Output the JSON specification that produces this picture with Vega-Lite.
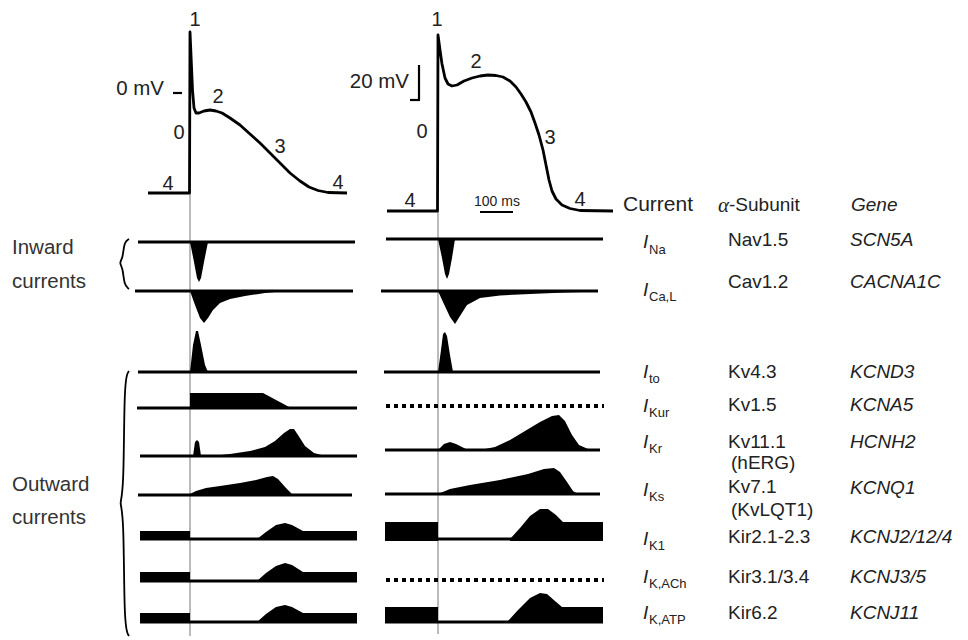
{
  "$schema": "https://vega.github.io/schema/vega-lite/v6.json",
  "width": 968,
  "height": 640,
  "padding": 0,
  "autosize": {"type": "fit", "contains": "padding"},
  "config": {"view": {"stroke": null}, "axis": null},
  "datasets": {
    "ap": [
      {"trace": "atrial", "o": 1, "x": 148, "y": 193},
      {"trace": "atrial", "o": 2, "x": 189.5, "y": 193},
      {"trace": "atrial", "o": 3, "x": 190, "y": 32},
      {"trace": "atrial", "o": 4, "x": 191, "y": 55},
      {"trace": "atrial", "o": 5, "x": 192.5, "y": 90},
      {"trace": "atrial", "o": 6, "x": 194, "y": 108},
      {"trace": "atrial", "o": 7, "x": 196, "y": 113},
      {"trace": "atrial", "o": 8, "x": 199, "y": 113},
      {"trace": "atrial", "o": 9, "x": 204, "y": 111},
      {"trace": "atrial", "o": 10, "x": 210, "y": 110},
      {"trace": "atrial", "o": 11, "x": 216, "y": 111},
      {"trace": "atrial", "o": 12, "x": 222, "y": 113},
      {"trace": "atrial", "o": 13, "x": 230, "y": 118},
      {"trace": "atrial", "o": 14, "x": 240, "y": 125},
      {"trace": "atrial", "o": 15, "x": 250, "y": 134},
      {"trace": "atrial", "o": 16, "x": 260, "y": 143},
      {"trace": "atrial", "o": 17, "x": 270, "y": 153},
      {"trace": "atrial", "o": 18, "x": 280, "y": 163},
      {"trace": "atrial", "o": 19, "x": 290, "y": 173},
      {"trace": "atrial", "o": 20, "x": 300, "y": 181},
      {"trace": "atrial", "o": 21, "x": 309, "y": 187},
      {"trace": "atrial", "o": 22, "x": 318, "y": 190.5},
      {"trace": "atrial", "o": 23, "x": 328, "y": 192.5},
      {"trace": "atrial", "o": 24, "x": 347, "y": 193},
      {"trace": "ventricular", "o": 1, "x": 387, "y": 211},
      {"trace": "ventricular", "o": 2, "x": 437.5, "y": 211},
      {"trace": "ventricular", "o": 3, "x": 438, "y": 35},
      {"trace": "ventricular", "o": 4, "x": 440, "y": 50},
      {"trace": "ventricular", "o": 5, "x": 442, "y": 64},
      {"trace": "ventricular", "o": 6, "x": 445, "y": 78},
      {"trace": "ventricular", "o": 7, "x": 448, "y": 84},
      {"trace": "ventricular", "o": 8, "x": 452, "y": 86},
      {"trace": "ventricular", "o": 9, "x": 457, "y": 85},
      {"trace": "ventricular", "o": 10, "x": 464, "y": 81},
      {"trace": "ventricular", "o": 11, "x": 472, "y": 78},
      {"trace": "ventricular", "o": 12, "x": 480, "y": 76},
      {"trace": "ventricular", "o": 13, "x": 488, "y": 75},
      {"trace": "ventricular", "o": 14, "x": 496, "y": 75.5},
      {"trace": "ventricular", "o": 15, "x": 503, "y": 77},
      {"trace": "ventricular", "o": 16, "x": 510, "y": 81},
      {"trace": "ventricular", "o": 17, "x": 516, "y": 87},
      {"trace": "ventricular", "o": 18, "x": 521, "y": 94},
      {"trace": "ventricular", "o": 19, "x": 526, "y": 102},
      {"trace": "ventricular", "o": 20, "x": 531, "y": 112},
      {"trace": "ventricular", "o": 21, "x": 535, "y": 123},
      {"trace": "ventricular", "o": 22, "x": 539, "y": 135},
      {"trace": "ventricular", "o": 23, "x": 543, "y": 150},
      {"trace": "ventricular", "o": 24, "x": 546, "y": 165},
      {"trace": "ventricular", "o": 25, "x": 549, "y": 180},
      {"trace": "ventricular", "o": 26, "x": 552, "y": 191},
      {"trace": "ventricular", "o": 27, "x": 556, "y": 199},
      {"trace": "ventricular", "o": 28, "x": 562, "y": 205},
      {"trace": "ventricular", "o": 29, "x": 570, "y": 208.5},
      {"trace": "ventricular", "o": 30, "x": 580, "y": 210.5},
      {"trace": "ventricular", "o": 31, "x": 613, "y": 211}
    ],
    "areas": [
      {"trace": "INa_L", "x": 190, "y": 242, "y2": 242},
      {"trace": "INa_L", "x": 194, "y": 262, "y2": 242},
      {"trace": "INa_L", "x": 197, "y": 278, "y2": 242},
      {"trace": "INa_L", "x": 199, "y": 282, "y2": 242},
      {"trace": "INa_L", "x": 201, "y": 278, "y2": 242},
      {"trace": "INa_L", "x": 204, "y": 262, "y2": 242},
      {"trace": "INa_L", "x": 208, "y": 242, "y2": 242},
      {"trace": "ICaL_L", "x": 190, "y": 291, "y2": 291},
      {"trace": "ICaL_L", "x": 195, "y": 305, "y2": 291},
      {"trace": "ICaL_L", "x": 200, "y": 318, "y2": 291},
      {"trace": "ICaL_L", "x": 204, "y": 323, "y2": 291},
      {"trace": "ICaL_L", "x": 208, "y": 318, "y2": 291},
      {"trace": "ICaL_L", "x": 213, "y": 310, "y2": 291},
      {"trace": "ICaL_L", "x": 220, "y": 303, "y2": 291},
      {"trace": "ICaL_L", "x": 230, "y": 299, "y2": 291},
      {"trace": "ICaL_L", "x": 245, "y": 296, "y2": 291},
      {"trace": "ICaL_L", "x": 265, "y": 293, "y2": 291},
      {"trace": "ICaL_L", "x": 285, "y": 291, "y2": 291},
      {"trace": "Ito_L", "x": 190, "y": 372, "y2": 372},
      {"trace": "Ito_L", "x": 193, "y": 345, "y2": 372},
      {"trace": "Ito_L", "x": 196, "y": 331, "y2": 372},
      {"trace": "Ito_L", "x": 198, "y": 331, "y2": 372},
      {"trace": "Ito_L", "x": 201, "y": 345, "y2": 372},
      {"trace": "Ito_L", "x": 205, "y": 365, "y2": 372},
      {"trace": "Ito_L", "x": 208, "y": 372, "y2": 372},
      {"trace": "IKur_L", "x": 190, "y": 393, "y2": 408},
      {"trace": "IKur_L", "x": 263, "y": 393, "y2": 408},
      {"trace": "IKur_L", "x": 291, "y": 408, "y2": 408},
      {"trace": "IKr_L1", "x": 193, "y": 456, "y2": 456},
      {"trace": "IKr_L1", "x": 195, "y": 442, "y2": 456},
      {"trace": "IKr_L1", "x": 197, "y": 440, "y2": 456},
      {"trace": "IKr_L1", "x": 199, "y": 442, "y2": 456},
      {"trace": "IKr_L1", "x": 201, "y": 456, "y2": 456},
      {"trace": "IKr_L2", "x": 212, "y": 456, "y2": 456},
      {"trace": "IKr_L2", "x": 230, "y": 454, "y2": 456},
      {"trace": "IKr_L2", "x": 250, "y": 451, "y2": 456},
      {"trace": "IKr_L2", "x": 265, "y": 447, "y2": 456},
      {"trace": "IKr_L2", "x": 275, "y": 441, "y2": 456},
      {"trace": "IKr_L2", "x": 284, "y": 433, "y2": 456},
      {"trace": "IKr_L2", "x": 290, "y": 429, "y2": 456},
      {"trace": "IKr_L2", "x": 294, "y": 429, "y2": 456},
      {"trace": "IKr_L2", "x": 298, "y": 435, "y2": 456},
      {"trace": "IKr_L2", "x": 305, "y": 446, "y2": 456},
      {"trace": "IKr_L2", "x": 314, "y": 453, "y2": 456},
      {"trace": "IKr_L2", "x": 325, "y": 456, "y2": 456},
      {"trace": "IKs_L", "x": 188, "y": 495, "y2": 495},
      {"trace": "IKs_L", "x": 196, "y": 491, "y2": 495},
      {"trace": "IKs_L", "x": 206, "y": 488, "y2": 495},
      {"trace": "IKs_L", "x": 220, "y": 486, "y2": 495},
      {"trace": "IKs_L", "x": 240, "y": 483, "y2": 495},
      {"trace": "IKs_L", "x": 256, "y": 480, "y2": 495},
      {"trace": "IKs_L", "x": 267, "y": 477, "y2": 495},
      {"trace": "IKs_L", "x": 273, "y": 476, "y2": 495},
      {"trace": "IKs_L", "x": 278, "y": 479, "y2": 495},
      {"trace": "IKs_L", "x": 286, "y": 488, "y2": 495},
      {"trace": "IKs_L", "x": 293, "y": 495, "y2": 495},
      {"trace": "IK1_La", "x": 140, "y": 531, "y2": 540},
      {"trace": "IK1_La", "x": 190, "y": 531, "y2": 540},
      {"trace": "IK1_Lb", "x": 257, "y": 539, "y2": 540},
      {"trace": "IK1_Lb", "x": 266, "y": 532, "y2": 540},
      {"trace": "IK1_Lb", "x": 276, "y": 525, "y2": 540},
      {"trace": "IK1_Lb", "x": 285, "y": 523, "y2": 540},
      {"trace": "IK1_Lb", "x": 292, "y": 525, "y2": 540},
      {"trace": "IK1_Lb", "x": 303, "y": 531, "y2": 540},
      {"trace": "IK1_Lb", "x": 357, "y": 531, "y2": 540},
      {"trace": "IKACh_La", "x": 140, "y": 572, "y2": 582},
      {"trace": "IKACh_La", "x": 190, "y": 572, "y2": 582},
      {"trace": "IKACh_Lb", "x": 257, "y": 581, "y2": 582},
      {"trace": "IKACh_Lb", "x": 266, "y": 573, "y2": 582},
      {"trace": "IKACh_Lb", "x": 276, "y": 566, "y2": 582},
      {"trace": "IKACh_Lb", "x": 285, "y": 563, "y2": 582},
      {"trace": "IKACh_Lb", "x": 292, "y": 565, "y2": 582},
      {"trace": "IKACh_Lb", "x": 303, "y": 572, "y2": 582},
      {"trace": "IKACh_Lb", "x": 357, "y": 572, "y2": 582},
      {"trace": "IKATP_La", "x": 140, "y": 613, "y2": 623},
      {"trace": "IKATP_La", "x": 190, "y": 613, "y2": 623},
      {"trace": "IKATP_Lb", "x": 257, "y": 622, "y2": 623},
      {"trace": "IKATP_Lb", "x": 266, "y": 614, "y2": 623},
      {"trace": "IKATP_Lb", "x": 276, "y": 607, "y2": 623},
      {"trace": "IKATP_Lb", "x": 285, "y": 605, "y2": 623},
      {"trace": "IKATP_Lb", "x": 292, "y": 607, "y2": 623},
      {"trace": "IKATP_Lb", "x": 303, "y": 613, "y2": 623},
      {"trace": "IKATP_Lb", "x": 357, "y": 613, "y2": 623},
      {"trace": "INa_R", "x": 438, "y": 239, "y2": 239},
      {"trace": "INa_R", "x": 442, "y": 258, "y2": 239},
      {"trace": "INa_R", "x": 445, "y": 274, "y2": 239},
      {"trace": "INa_R", "x": 447, "y": 279, "y2": 239},
      {"trace": "INa_R", "x": 449, "y": 274, "y2": 239},
      {"trace": "INa_R", "x": 452, "y": 258, "y2": 239},
      {"trace": "INa_R", "x": 455, "y": 239, "y2": 239},
      {"trace": "ICaL_R", "x": 438, "y": 291, "y2": 291},
      {"trace": "ICaL_R", "x": 443, "y": 302, "y2": 291},
      {"trace": "ICaL_R", "x": 450, "y": 317, "y2": 291},
      {"trace": "ICaL_R", "x": 455, "y": 324, "y2": 291},
      {"trace": "ICaL_R", "x": 460, "y": 316, "y2": 291},
      {"trace": "ICaL_R", "x": 467, "y": 305, "y2": 291},
      {"trace": "ICaL_R", "x": 480, "y": 298, "y2": 291},
      {"trace": "ICaL_R", "x": 500, "y": 295.5, "y2": 291},
      {"trace": "ICaL_R", "x": 530, "y": 294, "y2": 291},
      {"trace": "ICaL_R", "x": 565, "y": 292.5, "y2": 291},
      {"trace": "ICaL_R", "x": 598, "y": 291.5, "y2": 291},
      {"trace": "Ito_R", "x": 438, "y": 372, "y2": 372},
      {"trace": "Ito_R", "x": 441, "y": 350, "y2": 372},
      {"trace": "Ito_R", "x": 443, "y": 334, "y2": 372},
      {"trace": "Ito_R", "x": 445, "y": 332, "y2": 372},
      {"trace": "Ito_R", "x": 447, "y": 336, "y2": 372},
      {"trace": "Ito_R", "x": 450, "y": 355, "y2": 372},
      {"trace": "Ito_R", "x": 453, "y": 372, "y2": 372},
      {"trace": "IKr_R", "x": 438, "y": 450, "y2": 450},
      {"trace": "IKr_R", "x": 444, "y": 444, "y2": 450},
      {"trace": "IKr_R", "x": 450, "y": 442, "y2": 450},
      {"trace": "IKr_R", "x": 456, "y": 444, "y2": 450},
      {"trace": "IKr_R", "x": 466, "y": 449, "y2": 450},
      {"trace": "IKr_R", "x": 480, "y": 450, "y2": 450},
      {"trace": "IKr_R", "x": 495, "y": 447, "y2": 450},
      {"trace": "IKr_R", "x": 510, "y": 440, "y2": 450},
      {"trace": "IKr_R", "x": 525, "y": 431, "y2": 450},
      {"trace": "IKr_R", "x": 540, "y": 422, "y2": 450},
      {"trace": "IKr_R", "x": 552, "y": 416, "y2": 450},
      {"trace": "IKr_R", "x": 559, "y": 415, "y2": 450},
      {"trace": "IKr_R", "x": 565, "y": 421, "y2": 450},
      {"trace": "IKr_R", "x": 572, "y": 435, "y2": 450},
      {"trace": "IKr_R", "x": 579, "y": 445, "y2": 450},
      {"trace": "IKr_R", "x": 588, "y": 449, "y2": 450},
      {"trace": "IKr_R", "x": 598, "y": 450, "y2": 450},
      {"trace": "IKs_R", "x": 438, "y": 494, "y2": 494},
      {"trace": "IKs_R", "x": 450, "y": 489, "y2": 494},
      {"trace": "IKs_R", "x": 470, "y": 485, "y2": 494},
      {"trace": "IKs_R", "x": 500, "y": 480, "y2": 494},
      {"trace": "IKs_R", "x": 528, "y": 474, "y2": 494},
      {"trace": "IKs_R", "x": 544, "y": 469, "y2": 494},
      {"trace": "IKs_R", "x": 554, "y": 468, "y2": 494},
      {"trace": "IKs_R", "x": 560, "y": 472, "y2": 494},
      {"trace": "IKs_R", "x": 567, "y": 482, "y2": 494},
      {"trace": "IKs_R", "x": 573, "y": 491, "y2": 494},
      {"trace": "IKs_R", "x": 578, "y": 494, "y2": 494},
      {"trace": "IK1_Ra", "x": 385, "y": 522, "y2": 541},
      {"trace": "IK1_Ra", "x": 438, "y": 522, "y2": 541},
      {"trace": "IK1_Rb", "x": 510, "y": 539, "y2": 541},
      {"trace": "IK1_Rb", "x": 520, "y": 528, "y2": 541},
      {"trace": "IK1_Rb", "x": 530, "y": 516, "y2": 541},
      {"trace": "IK1_Rb", "x": 540, "y": 509, "y2": 541},
      {"trace": "IK1_Rb", "x": 548, "y": 509, "y2": 541},
      {"trace": "IK1_Rb", "x": 556, "y": 515, "y2": 541},
      {"trace": "IK1_Rb", "x": 563, "y": 522, "y2": 541},
      {"trace": "IK1_Rb", "x": 603, "y": 522, "y2": 541},
      {"trace": "IKATP_Ra", "x": 385, "y": 607, "y2": 623},
      {"trace": "IKATP_Ra", "x": 438, "y": 607, "y2": 623},
      {"trace": "IKATP_Rb", "x": 508, "y": 621, "y2": 623},
      {"trace": "IKATP_Rb", "x": 518, "y": 610, "y2": 623},
      {"trace": "IKATP_Rb", "x": 530, "y": 598, "y2": 623},
      {"trace": "IKATP_Rb", "x": 540, "y": 593, "y2": 623},
      {"trace": "IKATP_Rb", "x": 547, "y": 594, "y2": 623},
      {"trace": "IKATP_Rb", "x": 555, "y": 601, "y2": 623},
      {"trace": "IKATP_Rb", "x": 562, "y": 607, "y2": 623},
      {"trace": "IKATP_Rb", "x": 603, "y": 607, "y2": 623}
    ],
    "baselines": [
      {"x": 138, "x2": 355, "y": 242},
      {"x": 135, "x2": 353, "y": 291},
      {"x": 138, "x2": 357, "y": 372},
      {"x": 137, "x2": 357, "y": 408},
      {"x": 140, "x2": 357, "y": 456},
      {"x": 138, "x2": 352, "y": 495},
      {"x": 140, "x2": 357, "y": 539},
      {"x": 140, "x2": 357, "y": 581},
      {"x": 140, "x2": 357, "y": 622},
      {"x": 386, "x2": 603, "y": 239},
      {"x": 381, "x2": 598, "y": 291},
      {"x": 384, "x2": 600, "y": 372},
      {"x": 385, "x2": 600, "y": 450},
      {"x": 385, "x2": 600, "y": 494},
      {"x": 385, "x2": 603, "y": 539},
      {"x": 385, "x2": 603, "y": 622}
    ],
    "dotted": [
      {"x": 386, "x2": 604, "y": 406},
      {"x": 386, "x2": 604, "y": 580}
    ],
    "thin": [
      {"x": 190, "y": 193, "y2": 636},
      {"x": 438, "y": 211, "y2": 634}
    ],
    "bars": [
      {"x": 419, "x2": 419, "y": 65, "y2": 100},
      {"x": 410, "x2": 420, "y": 100, "y2": 100},
      {"x": 173, "x2": 182, "y": 93, "y2": 93},
      {"x": 480, "x2": 513, "y": 212, "y2": 212}
    ],
    "braces": [
      {"b": "in", "o": 1, "x": 129, "y": 239},
      {"b": "in", "o": 2, "x": 124, "y": 242},
      {"b": "in", "o": 3, "x": 123, "y": 258},
      {"b": "in", "o": 4, "x": 119, "y": 263},
      {"b": "in", "o": 5, "x": 123, "y": 268},
      {"b": "in", "o": 6, "x": 124, "y": 285},
      {"b": "in", "o": 7, "x": 129, "y": 289},
      {"b": "out", "o": 1, "x": 129, "y": 371},
      {"b": "out", "o": 2, "x": 124, "y": 378},
      {"b": "out", "o": 3, "x": 124, "y": 495},
      {"b": "out", "o": 4, "x": 119, "y": 503},
      {"b": "out", "o": 5, "x": 124, "y": 511},
      {"b": "out", "o": 6, "x": 124, "y": 628},
      {"b": "out", "o": 7, "x": 129, "y": 636}
    ],
    "centerText": [
      {"t": "1", "x": 195, "y": 20},
      {"t": "2", "x": 218, "y": 97},
      {"t": "0", "x": 179, "y": 133},
      {"t": "3", "x": 280, "y": 147},
      {"t": "4", "x": 168, "y": 184},
      {"t": "4", "x": 338, "y": 183},
      {"t": "1", "x": 437, "y": 20},
      {"t": "2", "x": 476, "y": 62},
      {"t": "0", "x": 422, "y": 132},
      {"t": "3", "x": 550, "y": 138},
      {"t": "4", "x": 410, "y": 201},
      {"t": "4", "x": 580, "y": 200}
    ],
    "rightText": [
      {"t": "0 mV", "x": 164, "y": 89},
      {"t": "20 mV", "x": 409, "y": 82}
    ],
    "sideText": [
      {"t": "Inward", "x": 12, "y": 248},
      {"t": "currents", "x": 12, "y": 282},
      {"t": "Outward", "x": 12, "y": 485},
      {"t": "currents", "x": 12, "y": 518}
    ],
    "leftText": [
      {"t": "-Subunit", "x": 729, "y": 205},
      {"t": "Nav1.5", "x": 728, "y": 240},
      {"t": "Cav1.2", "x": 728, "y": 282},
      {"t": "Kv4.3", "x": 728, "y": 372},
      {"t": "Kv1.5", "x": 728, "y": 405},
      {"t": "Kv11.1", "x": 728, "y": 442},
      {"t": "(hERG)", "x": 731, "y": 463},
      {"t": "Kv7.1", "x": 728, "y": 487},
      {"t": "(KvLQT1)", "x": 731, "y": 510},
      {"t": "Kir2.1-2.3", "x": 728, "y": 537},
      {"t": "Kir3.1/3.4", "x": 728, "y": 577},
      {"t": "Kir6.2", "x": 728, "y": 613}
    ],
    "italicText": [
      {"t": "Gene", "x": 851, "y": 205},
      {"t": "SCN5A", "x": 850, "y": 240},
      {"t": "CACNA1C", "x": 850, "y": 282},
      {"t": "KCND3", "x": 850, "y": 372},
      {"t": "KCNA5", "x": 850, "y": 405},
      {"t": "HCNH2", "x": 850, "y": 442},
      {"t": "KCNQ1", "x": 850, "y": 488},
      {"t": "KCNJ2/12/4", "x": 850, "y": 537},
      {"t": "KCNJ3/5", "x": 850, "y": 577},
      {"t": "KCNJ11", "x": 850, "y": 613},
      {"t": "I", "x": 643, "y": 242},
      {"t": "I", "x": 643, "y": 290},
      {"t": "I", "x": 643, "y": 372},
      {"t": "I", "x": 643, "y": 406},
      {"t": "I", "x": 643, "y": 442},
      {"t": "I", "x": 643, "y": 490},
      {"t": "I", "x": 643, "y": 539},
      {"t": "I", "x": 643, "y": 577},
      {"t": "I", "x": 643, "y": 613}
    ],
    "subText": [
      {"t": "Na", "x": 649, "y": 250},
      {"t": "Ca,L", "x": 649, "y": 297},
      {"t": "to", "x": 649, "y": 379},
      {"t": "Kur", "x": 649, "y": 413},
      {"t": "Kr", "x": 649, "y": 449},
      {"t": "Ks", "x": 649, "y": 497},
      {"t": "K1", "x": 649, "y": 546},
      {"t": "K,ACh", "x": 649, "y": 584},
      {"t": "K,ATP", "x": 649, "y": 620}
    ]
  },
  "encoding": {
    "x": {"type": "quantitative", "scale": {"domain": [0, 968], "nice": false, "zero": false}, "axis": null},
    "y": {"type": "quantitative", "scale": {"domain": [0, 640], "reverse": true, "nice": false, "zero": false}, "axis": null}
  },
  "layer": [
    {
      "data": {"name": "thin"},
      "mark": {"type": "rule", "color": "#777", "strokeWidth": 1},
      "encoding": {"x": {"field": "x"}, "y": {"field": "y"}, "y2": {"field": "y2"}}
    },
    {
      "data": {"name": "areas"},
      "mark": {"type": "area", "color": "#000", "opacity": 1, "interpolate": "linear"},
      "encoding": {"x": {"field": "x"}, "y": {"field": "y"}, "y2": {"field": "y2"}, "detail": {"field": "trace"}}
    },
    {
      "data": {"name": "baselines"},
      "mark": {"type": "rule", "color": "#000", "strokeWidth": 3},
      "encoding": {"x": {"field": "x"}, "x2": {"field": "x2"}, "y": {"field": "y"}}
    },
    {
      "data": {"name": "dotted"},
      "mark": {"type": "rule", "color": "#000", "strokeWidth": 4, "strokeDash": [4, 4]},
      "encoding": {"x": {"field": "x"}, "x2": {"field": "x2"}, "y": {"field": "y"}}
    },
    {
      "data": {"name": "ap"},
      "mark": {"type": "line", "color": "#000", "strokeWidth": 2.8, "interpolate": "linear", "strokeJoin": "round"},
      "encoding": {"x": {"field": "x"}, "y": {"field": "y"}, "detail": {"field": "trace"}, "order": {"field": "o"}}
    },
    {
      "data": {"name": "bars"},
      "mark": {"type": "rule", "color": "#000", "strokeWidth": 2.2},
      "encoding": {"x": {"field": "x"}, "x2": {"field": "x2"}, "y": {"field": "y"}, "y2": {"field": "y2"}}
    },
    {
      "data": {"name": "braces"},
      "mark": {"type": "line", "color": "#000", "strokeWidth": 1.8, "interpolate": "basis"},
      "encoding": {"x": {"field": "x"}, "y": {"field": "y"}, "detail": {"field": "b"}, "order": {"field": "o"}}
    },
    {
      "data": {"name": "centerText"},
      "mark": {"type": "text", "font": "Liberation Sans", "fontSize": 20, "align": "center", "baseline": "middle", "color": "#222"},
      "encoding": {"x": {"field": "x"}, "y": {"field": "y"}, "text": {"field": "t"}}
    },
    {
      "data": {"values": [{"t": "Current", "x": 658, "y": 205}]},
      "mark": {"type": "text", "font": "Liberation Sans", "fontSize": 21, "align": "center", "baseline": "middle", "color": "#222"},
      "encoding": {"x": {"field": "x"}, "y": {"field": "y"}, "text": {"field": "t"}}
    },
    {
      "data": {"name": "rightText"},
      "mark": {"type": "text", "font": "Liberation Sans", "fontSize": 20.5, "align": "right", "baseline": "middle", "color": "#222"},
      "encoding": {"x": {"field": "x"}, "y": {"field": "y"}, "text": {"field": "t"}}
    },
    {
      "data": {"name": "sideText"},
      "mark": {"type": "text", "font": "Liberation Sans", "fontSize": 20.5, "align": "left", "baseline": "middle", "color": "#333"},
      "encoding": {"x": {"field": "x"}, "y": {"field": "y"}, "text": {"field": "t"}}
    },
    {
      "data": {"name": "leftText"},
      "mark": {"type": "text", "font": "Liberation Sans", "fontSize": 19, "align": "left", "baseline": "middle", "color": "#222"},
      "encoding": {"x": {"field": "x"}, "y": {"field": "y"}, "text": {"field": "t"}}
    },
    {
      "data": {"values": [{"t": "α", "x": 718, "y": 206}]},
      "mark": {"type": "text", "font": "Liberation Serif", "fontStyle": "italic", "fontSize": 21, "align": "left", "baseline": "middle", "color": "#222"},
      "encoding": {"x": {"field": "x"}, "y": {"field": "y"}, "text": {"field": "t"}}
    },
    {
      "data": {"name": "italicText"},
      "mark": {"type": "text", "font": "Liberation Sans", "fontStyle": "italic", "fontSize": 19, "align": "left", "baseline": "middle", "color": "#222"},
      "encoding": {"x": {"field": "x"}, "y": {"field": "y"}, "text": {"field": "t"}}
    },
    {
      "data": {"name": "subText"},
      "mark": {"type": "text", "font": "Liberation Sans", "fontSize": 13, "align": "left", "baseline": "middle", "color": "#222"},
      "encoding": {"x": {"field": "x"}, "y": {"field": "y"}, "text": {"field": "t"}}
    },
    {
      "data": {"values": [{"t": "100 ms", "x": 497, "y": 202}]},
      "mark": {"type": "text", "font": "Liberation Sans", "fontSize": 14, "align": "center", "baseline": "middle", "color": "#222"},
      "encoding": {"x": {"field": "x"}, "y": {"field": "y"}, "text": {"field": "t"}}
    }
  ]
}
